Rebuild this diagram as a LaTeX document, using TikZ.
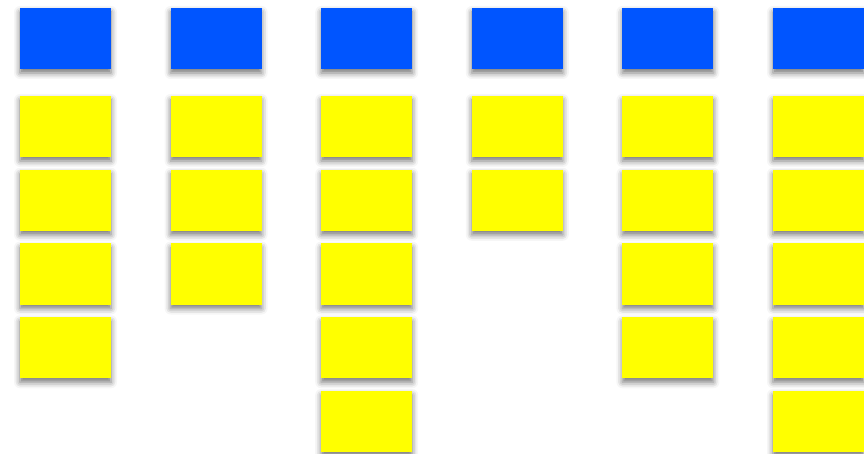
\documentclass[tikz,border=0pt]{standalone}
\usepackage{tikz}
\usetikzlibrary{positioning,shadows.blur}
\definecolor{headblue}{HTML}{0055FF}
\definecolor{noteyellow}{HTML}{FFFF00}

\tikzset{
  card/.style={minimum width=91pt,minimum height=61pt,inner sep=0pt,
    blur shadow={shadow xshift=0pt,shadow yshift=-4pt,shadow blur radius=6pt,shadow opacity=55}},
  head/.style={card,fill=headblue},
  note/.style={card,fill=noteyellow}
}

\begin{document}
\begin{tikzpicture}[x=1pt,y=1pt]
\useasboundingbox (0,0) rectangle (864,-454);
% one column per header, with its notes underneath
\foreach \c/\n in {1/4,2/3,3/5,4/2,5/4,6/5}{
  \node[head] (h\c) at ({65.5+150.6*(\c-1)},-38.5) {};
  \foreach \r in {1,...,\n}
    \node[note] (n\c\r) at ({65.5+150.6*(\c-1)},{-126.5-73.75*(\r-1)}) {};
}
\end{tikzpicture}
\end{document}
